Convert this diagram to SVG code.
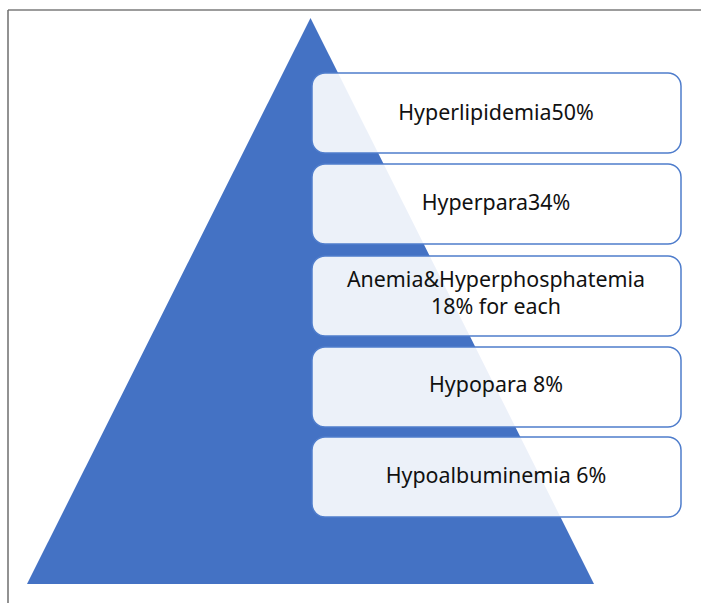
<svg xmlns="http://www.w3.org/2000/svg" width="701" height="603" viewBox="0 0 701 603">
<style>
.frame{stroke:#3a3a3a;stroke-width:1.2;fill:none}
.box{fill:#ffffff;fill-opacity:0.9;stroke:#4f7dcc;stroke-width:1.5}
.lbl{font-family:"Noto Sans","Open Sans","DejaVu Sans",sans-serif;font-size:21.4px;fill:#111111;text-anchor:middle}
</style>
<rect width="701" height="603" fill="#ffffff"/>
<line class="frame" x1="8" y1="10" x2="701" y2="10"/>
<line x1="8" y1="10" x2="8" y2="603" stroke="#6e6e6e" stroke-width="1.5"/>
<g id="pyramid">
<polygon points="310.5,18 594,584 27,584" fill="#4472c4"/>
</g>
<g id="connectors"></g>
<g id="node1">
<rect class="box" x="312" y="73" width="369" height="80" rx="13"/>
<text class="lbl" x="496" y="120">Hyperlipidemia50%</text>
</g>
<g id="node2">
<rect class="box" x="312" y="164" width="369" height="80" rx="13"/>
<text class="lbl" x="496" y="210">Hyperpara34%</text>
</g>
<g id="node3">
<rect class="box" x="312" y="256" width="369" height="80" rx="13"/>
<text class="lbl" x="496" y="287"><tspan x="496">Anemia&amp;Hyperphosphatemia</tspan><tspan x="496" dy="27">18% for each</tspan></text>
</g>
<g id="node4">
<rect class="box" x="312" y="347" width="369" height="80" rx="13"/>
<text class="lbl" x="496" y="392">Hypopara 8%</text>
</g>
<g id="node5">
<rect class="box" x="312" y="437" width="369" height="80" rx="13"/>
<text class="lbl" x="496" y="483">Hypoalbuminemia 6%</text>
</g>
</svg>
